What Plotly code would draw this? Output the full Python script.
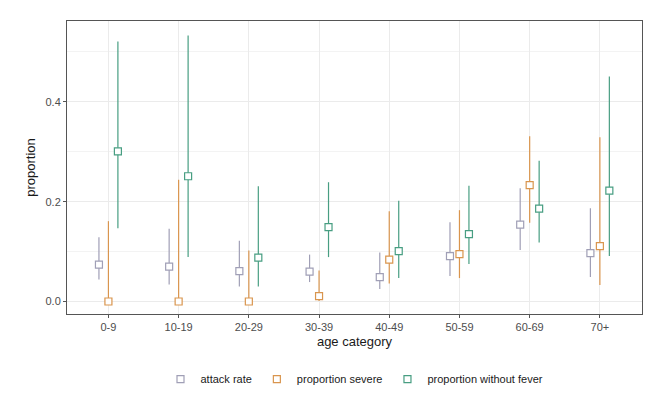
import plotly.graph_objects as go

categories = ["0-9", "10-19", "20-29", "30-39", "40-49", "50-59", "60-69", "70+"]

attack_rate = [0.074, 0.070, 0.061, 0.060, 0.049, 0.091, 0.154, 0.097]
attack_lo = [0.044, 0.034, 0.030, 0.039, 0.025, 0.051, 0.103, 0.049]
attack_hi = [0.129, 0.146, 0.122, 0.094, 0.098, 0.159, 0.227, 0.187]

severe = [0.0, 0.0, 0.0, 0.011, 0.084, 0.095, 0.233, 0.111]
severe_lo = [0.0, 0.0, 0.0, 0.001, 0.036, 0.047, 0.158, 0.033]
severe_hi = [0.161, 0.244, 0.102, 0.062, 0.181, 0.183, 0.331, 0.329]

nofever = [0.301, 0.251, 0.088, 0.149, 0.101, 0.135, 0.186, 0.222]
nofever_lo = [0.147, 0.089, 0.030, 0.089, 0.047, 0.075, 0.118, 0.091]
nofever_hi = [0.521, 0.533, 0.231, 0.239, 0.202, 0.232, 0.282, 0.451]

series = [
    ("attack rate", attack_rate, attack_lo, attack_hi, "#a09fb6", -0.135),
    ("proportion severe", severe, severe_lo, severe_hi, "#d9954e", 0.0),
    ("proportion without fever", nofever, nofever_lo, nofever_hi, "#489e82", 0.135),
]

fig = go.Figure()
for name, vals, lo, hi, color, off in series:
    xs = [i + 1 + off for i in range(len(categories))]
    fig.add_trace(go.Scatter(
        x=xs, y=vals, mode="markers", name=name,
        marker=dict(symbol="square", size=7, color="white",
                    line=dict(color=color, width=1.2)),
        error_y=dict(type="data", symmetric=False,
                     array=[h - v for h, v in zip(hi, vals)],
                     arrayminus=[v - l for v, l in zip(vals, lo)],
                     color=color, thickness=1.2, width=0),
    ))

fig.update_layout(
    width=668, height=399,
    margin=dict(l=67, r=26, t=21, b=85, autoexpand=False),
    paper_bgcolor="white", plot_bgcolor="white",
    font=dict(family="Liberation Sans, Arial, sans-serif", size=11, color="#4d4d4d"),
    legend=dict(orientation="h", x=0.5, xanchor="center", y=-0.222, yanchor="middle",
                font=dict(size=11, color="#1a1a1a"), itemwidth=30),
)
fig.update_xaxes(
    range=[0.41, 8.6], tickmode="array", automargin=False,
    tickvals=list(range(1, len(categories) + 1)), ticktext=categories,
    showgrid=True, gridcolor="#ebebeb", gridwidth=1,
    showline=True, mirror=True, linecolor="#555555", linewidth=1,
    ticks="outside", ticklen=3, tickcolor="#555555",
    zeroline=False,
    title=dict(text="age category", font=dict(size=13, color="#1a1a1a"), standoff=4),
)
fig.update_yaxes(
    range=[-0.025, 0.562], tick0=0, dtick=0.2, tickformat=".1f", automargin=False,
    showgrid=True, gridcolor="#ebebeb", gridwidth=1,
    minor=dict(dtick=0.1, tick0=0, showgrid=True, gridcolor="#f3f3f3", gridwidth=0.6),
    showline=True, mirror=True, linecolor="#555555", linewidth=1,
    ticks="outside", ticklen=3, tickcolor="#555555",
    zeroline=False,
    title=dict(text="proportion", font=dict(size=13, color="#1a1a1a"), standoff=6),
)

fig.write_html("out.html", post_script="document.body.style.margin='0';",
               config={"displayModeBar": False})
